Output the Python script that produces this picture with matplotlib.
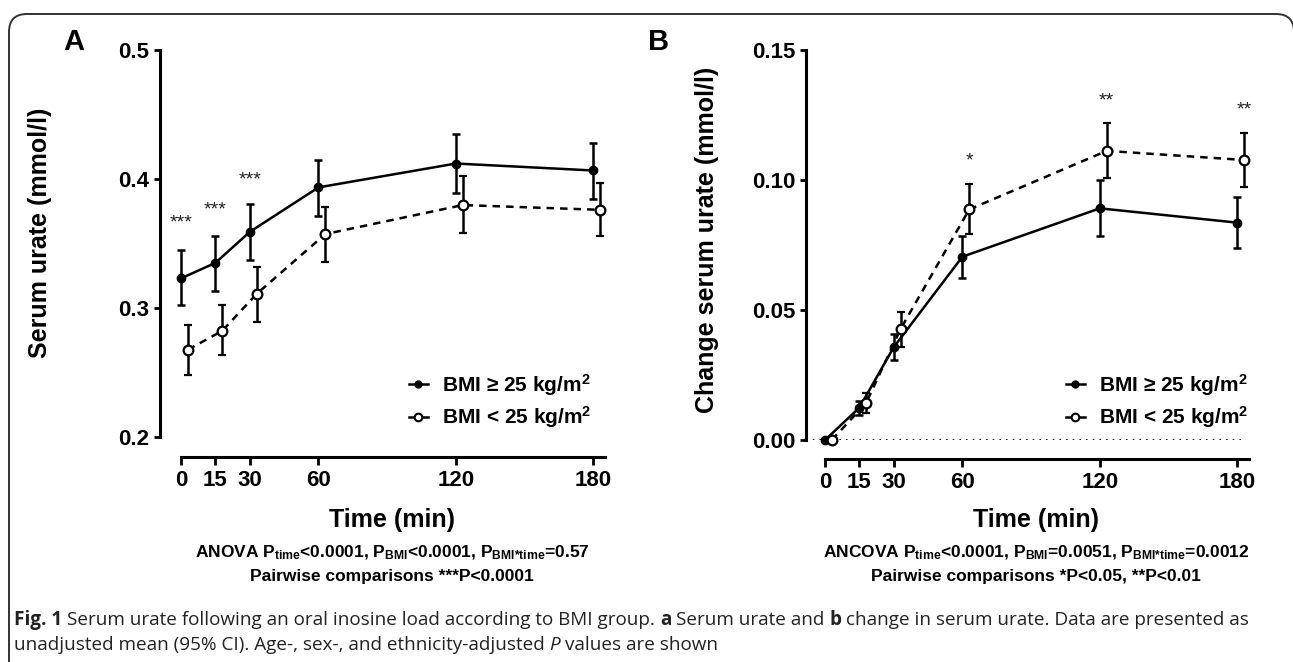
import numpy as np
import matplotlib
matplotlib.use('Agg')
import matplotlib.pyplot as plt
from matplotlib.lines import Line2D
from matplotlib.patches import FancyBboxPatch

plt.rcParams['font.family'] = ['Liberation Sans', 'DejaVu Sans']
plt.rcParams['mathtext.fontset'] = 'custom'
plt.rcParams['mathtext.rm'] = 'Liberation Sans:bold'
plt.rcParams['mathtext.it'] = 'Liberation Sans:bold'
plt.rcParams['mathtext.bf'] = 'Liberation Sans:bold'

# time points (min)
times = [0, 15, 30, 60, 120, 180]
time_labels = ['0', '15', '30', '60', '120', '180']

# panel A: serum urate (mmol/l), mean and 95% CI
a_high = [0.323, 0.335, 0.359, 0.3935, 0.412, 0.4066]
a_high_lo = [0.302, 0.3135, 0.337, 0.3715, 0.3893, 0.3844]
a_high_hi = [0.3448, 0.3559, 0.3805, 0.415, 0.4346, 0.428]
a_low = [0.2677, 0.2823, 0.3109, 0.3573, 0.3798, 0.3761]
a_low_lo = [0.2484, 0.2635, 0.2895, 0.3358, 0.3585, 0.3557]
a_low_hi = [0.2870, 0.3020, 0.3317, 0.3786, 0.402, 0.3967]

# panel B: change in serum urate (mmol/l)
b_high = [0.0, 0.0124, 0.0357, 0.0705, 0.0891, 0.0836]
b_high_lo = [0.0, 0.0098, 0.0306, 0.0622, 0.0785, 0.0737]
b_high_hi = [0.0, 0.0150, 0.0408, 0.0785, 0.1000, 0.0936]
b_low = [0.0, 0.0143, 0.0427, 0.0887, 0.1112, 0.1077]
b_low_lo = [0.0, 0.0105, 0.0357, 0.0791, 0.1006, 0.0972]
b_low_hi = [0.0, 0.0179, 0.0491, 0.0985, 0.1218, 0.1180]

# significance marks
a_star_t = [0, 15, 30]
a_star_y = [0.366, 0.376, 0.399]
a_star_txt = ['***', '***', '***']
b_star_t = [63, 123, 183]
b_star_y = [0.1075, 0.1305, 0.127]
b_star_txt = ['*', '**', '**']

legend_labels = [r'BMI ≥ 25 kg/m$^2$', r'BMI < 25 kg/m$^2$']

W, H = 1293, 662
OFFSET = 3  # horizontal nudge of the open-circle series (min)

fig = plt.figure(figsize=(W / 100, H / 100), dpi=100)


def fx(p):
    return p / W


def fy(p):
    return 1 - p / H


def box(left, top, right, bottom):
    return [left / W, 1 - bottom / H, (right - left) / W, (bottom - top) / H]


def panel(ax, high, hlo, hhi, low, llo, lhi, xlim, ylim, yticks, ylabels, drop):
    t = np.array(times, dtype=float)
    high, hlo, hhi = map(np.array, (high, hlo, hhi))
    low, llo, lhi = map(np.array, (low, llo, lhi))
    c1 = ax.errorbar(t, high, yerr=[high - hlo, hhi - high], fmt='-o', color='black',
                     lw=1.8, ms=6, elinewidth=1.8, capsize=3.2, capthick=1.8,
                     clip_on=False, zorder=3)
    c2 = ax.errorbar(t + OFFSET, low, yerr=[low - llo, lhi - low], fmt='--o', color='black',
                     mfc='white', mec='black', mew=1.6, lw=1.8, ms=7,
                     elinewidth=1.8, capsize=3.2, capthick=1.8, clip_on=False, zorder=4)
    c2[0].set_dashes((3, 2.4))
    for cont in (c1, c2):
        for art in cont[1] + cont[2]:
            art.set_clip_on(False)

    ax.set_xlim(*xlim)
    ax.set_ylim(*ylim)
    ax.spines['top'].set_visible(False)
    ax.spines['right'].set_visible(False)
    ax.spines['left'].set_linewidth(2.2)
    ax.spines['bottom'].set_linewidth(2.2)
    # detached x axis, as in GraphPad
    ax.spines['bottom'].set_position(('outward', drop))
    ax.spines['bottom'].set_bounds(0, 185)
    ax.set_xticks(times)
    ax.set_xticklabels(time_labels, fontsize=16, fontweight='bold')
    ax.set_yticks(yticks)
    ax.set_yticklabels(ylabels, fontsize=16, fontweight='bold')
    ax.tick_params(axis='x', length=6, width=2, pad=3)
    ax.tick_params(axis='y', length=4, width=2, pad=3.5)

    handles = [
        Line2D([], [], color='black', lw=1.8, marker='o', ms=5),
        Line2D([], [], color='black', lw=1.8, marker='o', ms=5.5, mfc='white', mew=1.5),
    ]
    return handles


# ---- panel A ----
ax_a = fig.add_axes(box(160, 50, 610, 437))
h = panel(ax_a, a_high, a_high_lo, a_high_hi, a_low, a_low_lo, a_low_hi,
          (-9.2, 187.3), (0.2, 0.5), [0.2, 0.3, 0.4, 0.5], ['0.2', '0.3', '0.4', '0.5'], 14.4)
for t, y, s in zip(a_star_t, a_star_y, a_star_txt):
    ax_a.text(t, y, s, ha='center', va='center', fontsize=14, color='#222')
ax_a.set_xlabel('Time (min)', fontsize=18, fontweight='bold', va='center')
ax_a.xaxis.set_label_coords(fx(392), fy(520), transform=fig.transFigure)
ax_a.set_ylabel('Serum urate (mmol/l)', fontsize=18, fontweight='bold', va='center')
ax_a.yaxis.set_label_coords(fx(40), fy(233), transform=fig.transFigure)
ax_a.legend(h, legend_labels, loc='upper left', bbox_to_anchor=(fx(409), fy(372)),
            bbox_transform=fig.transFigure, frameon=False, borderpad=0, borderaxespad=0,
            handlelength=0.9, handletextpad=0.7, labelspacing=0.3,
            prop=dict(weight='bold', size=15))

# ---- panel B ----
ax_b = fig.add_axes(box(806, 50, 1256, 440))
h = panel(ax_b, b_high, b_high_lo, b_high_hi, b_low, b_low_lo, b_low_hi,
          (-8.3, 188.2), (0.0, 0.15), [0.0, 0.05, 0.10, 0.15],
          ['0.00', '0.05', '0.10', '0.15'], 13.7)
ax_b.axhline(0, xmin=0, xmax=0.977, color='black', lw=1.2, ls=(0, (1, 3)), zorder=1)
for t, y, s in zip(b_star_t, b_star_y, b_star_txt):
    ax_b.text(t, y, s, ha='center', va='center', fontsize=14, color='#222')
ax_b.set_xlabel('Time (min)', fontsize=18, fontweight='bold', va='center')
ax_b.xaxis.set_label_coords(fx(1036), fy(520), transform=fig.transFigure)
ax_b.set_ylabel('Change serum urate (mmol/l)', fontsize=18, fontweight='bold', va='center')
ax_b.yaxis.set_label_coords(fx(707), fy(240), transform=fig.transFigure)
ax_b.legend(h, legend_labels, loc='upper left', bbox_to_anchor=(fx(1066), fy(372)),
            bbox_transform=fig.transFigure, frameon=False, borderpad=0, borderaxespad=0,
            handlelength=0.9, handletextpad=0.7, labelspacing=0.3,
            prop=dict(weight='bold', size=15))

# panel letters
fig.text(fx(74), fy(42), 'A', fontsize=21, fontweight='bold', ha='center', va='center')
fig.text(fx(659), fy(42), 'B', fontsize=21, fontweight='bold', ha='center', va='center')

# statistics lines
fig.text(fx(392), fy(553), r'ANOVA P$_{time}$<0.0001, P$_{BMI}$<0.0001, P$_{BMI{*}time}$=0.57',
         ha='center', va='center', fontsize=12.5, fontweight='bold')
fig.text(fx(392), fy(576), 'Pairwise comparisons ***P<0.0001',
         ha='center', va='center', fontsize=12.5, fontweight='bold')
fig.text(fx(1036), fy(553), r'ANCOVA P$_{time}$<0.0001, P$_{BMI}$=0.0051, P$_{BMI{*}time}$=0.0012',
         ha='center', va='center', fontsize=12.5, fontweight='bold')
fig.text(fx(1036), fy(576), 'Pairwise comparisons *P<0.05, **P<0.01',
         ha='center', va='center', fontsize=12.5, fontweight='bold')

# caption, written run by run so bold / italic words sit inline
renderer = fig.canvas.get_renderer()
cap_font = ['Open Sans', 'DejaVu Sans']
cap_size = 13.6


def width_of(s, **kw):
    t = fig.text(0, 0, s, fontsize=cap_size, family=cap_font, **kw)
    w = t.get_window_extent(renderer=renderer).width
    t.remove()
    return w


space = width_of('x x') - width_of('xx')


def runs(x, y, parts):
    for s, kw in parts:
        t = fig.text(fx(x), fy(y), s, fontsize=cap_size, family=cap_font,
                     va='baseline', color='#222', **kw)
        x += t.get_window_extent(renderer=renderer).width + space


runs(14, 625, [
    ('Fig. 1', dict(fontweight='bold')),
    ('Serum urate following an oral inosine load according to BMI group.', {}),
    ('a', dict(fontweight='bold')),
    ('Serum urate and', {}),
    ('b', dict(fontweight='bold')),
    ('change in serum urate. Data are presented as', {}),
])
runs(14, 650, [
    ('unadjusted mean (95% CI). Age-, sex-, and ethnicity-adjusted', {}),
    ('P', dict(style='italic')),
    ('values are shown', {}),
])

# rounded frame around the figure, running off the right and bottom edges
frame = FancyBboxPatch((0.09, -1.0), 12.85, 7.48, boxstyle='round,pad=0,rounding_size=0.18',
                       transform=fig.dpi_scale_trans, fill=False, lw=1.4, ec='#333',
                       clip_on=False)
fig.add_artist(frame)

fig.savefig('out.png', dpi=100)
